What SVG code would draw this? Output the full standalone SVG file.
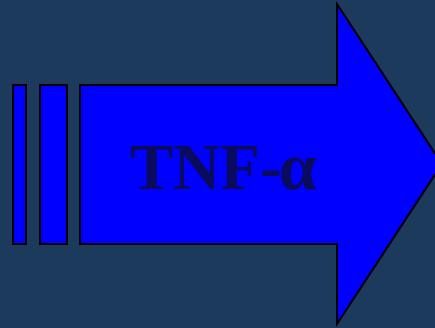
<svg xmlns="http://www.w3.org/2000/svg" width="435" height="328" viewBox="0 0 435 328">
<style>
.s{fill:#0000ff;stroke:#000;stroke-width:2}
.t{font-family:"Liberation Serif",serif;font-weight:bold;font-size:65px;fill:#0b0b5e}
.a{font-size:68px}
</style>
<rect width="435" height="328" fill="#1b3a5c"/>
<g id="arrow">
<rect class="s" x="13" y="85" width="13" height="159"/>
<rect class="s" x="40" y="85" width="27" height="159"/>
<path class="s" d="M80 85 H337 V4 L442 164 L337 324 V244 H80 Z"/>
<text class="t" x="130" y="189">TNF-<tspan class="a" dx="-3">α</tspan></text>
</g>
</svg>
